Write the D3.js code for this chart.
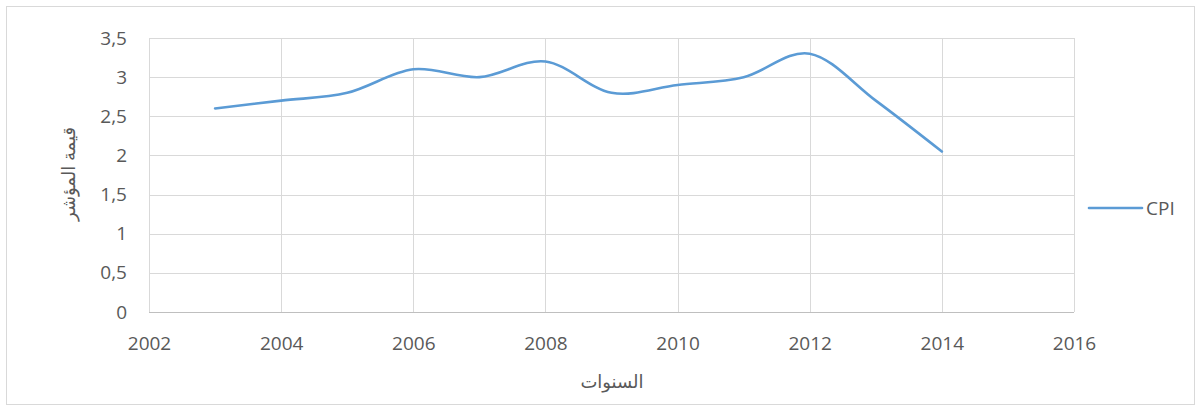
<!DOCTYPE html>
<html><head><meta charset="utf-8">
<script src="https://cdn.jsdelivr.net/npm/d3@7"></script>
<style>
html,body{margin:0;padding:0;background:#fff;}
svg{display:block;}
text{font-family:"Open Sans","Noto Sans","DejaVu Sans",sans-serif;fill:#595959;}
</style></head>
<body>
<script>
const years = [2003,2004,2005,2006,2007,2008,2009,2010,2011,2012,2013,2014];
const cpi = [2.6,2.7,2.8,3.1,3.0,3.2,2.8,2.9,3.0,3.3,2.7,2.05];
const xTicks = [2002,2004,2006,2008,2010,2012,2014,2016];
const yTicks = [0,0.5,1,1.5,2,2.5,3,3.5];
const seriesName = "CPI";
const xTitle = "السنوات";
const yTitle = "قيمة المؤشر";

const W = 1197, H = 407;
const svg = d3.select("body").append("svg").attr("width", W).attr("height", H);
svg.append("rect").attr("x",6.5).attr("y",6.5).attr("width",W-9).attr("height",H-9)
  .attr("fill","#fff").attr("stroke","#d9d9d9").attr("stroke-width",1);

const x = d3.scaleLinear().domain([2002,2016]).range([149,1074]);
const y = d3.scaleLinear().domain([0,3.5]).range([312,38]);

// gridlines
svg.append("g").selectAll("line").data(yTicks).join("line")
  .attr("x1",x(2002)).attr("x2",x(2016))
  .attr("y1",d=>Math.round(y(d))+0.5).attr("y2",d=>Math.round(y(d))+0.5)
  .attr("stroke",d=>d===0?"#bfbfbf":"#d9d9d9").attr("stroke-width",1);
svg.append("g").selectAll("line").data(xTicks).join("line")
  .attr("x1",d=>Math.round(x(d))+0.5).attr("x2",d=>Math.round(x(d))+0.5)
  .attr("y1",y(3.5)).attr("y2",y(0))
  .attr("stroke","#d9d9d9").attr("stroke-width",1);

const fmt = d => String(d).replace(".", ",");
const yAxis = svg.append("g").attr("transform",`translate(${x(2002)},0)`)
  .call(d3.axisLeft(y).tickValues(yTicks).tickFormat(fmt).tickSize(0).tickPadding(22));
yAxis.select(".domain").remove();
yAxis.selectAll("text").attr("font-size",19).style("fill","#595959")
  .style("font-family",'"Open Sans",sans-serif');

const xAxis = svg.append("g").attr("transform",`translate(0,${y(0)})`)
  .call(d3.axisBottom(x).tickValues(xTicks).tickFormat(d3.format("d")).tickSize(0).tickPadding(25));
xAxis.select(".domain").remove();
xAxis.selectAll("text").attr("font-size",19).style("fill","#595959")
  .style("font-family",'"Open Sans",sans-serif');

// titles
svg.append("text").attr("x",612).attr("y",388).attr("text-anchor","middle")
  .attr("font-size",18).text(xTitle);
svg.append("text").attr("transform","translate(75,174) rotate(-90)")
  .attr("text-anchor","middle").attr("font-size",18).text(yTitle);

// line
const data = years.map((yr,i)=>({yr, v: cpi[i]}));
const line = d3.line().x(d=>x(d.yr)).y(d=>y(d.v)).curve(d3.curveCatmullRom.alpha(0));
svg.append("path").datum(data).attr("d",line).attr("fill","none")
  .attr("stroke","#5b9bd5").attr("stroke-width",2.6).attr("stroke-linecap","round");

// legend
svg.append("line").attr("x1",1089).attr("x2",1142).attr("y1",208).attr("y2",208)
  .attr("stroke","#5b9bd5").attr("stroke-width",2.6).attr("stroke-linecap","round");
svg.append("text").attr("x",1146).attr("y",215).attr("font-size",19).text(seriesName);
</script>
</body></html>
